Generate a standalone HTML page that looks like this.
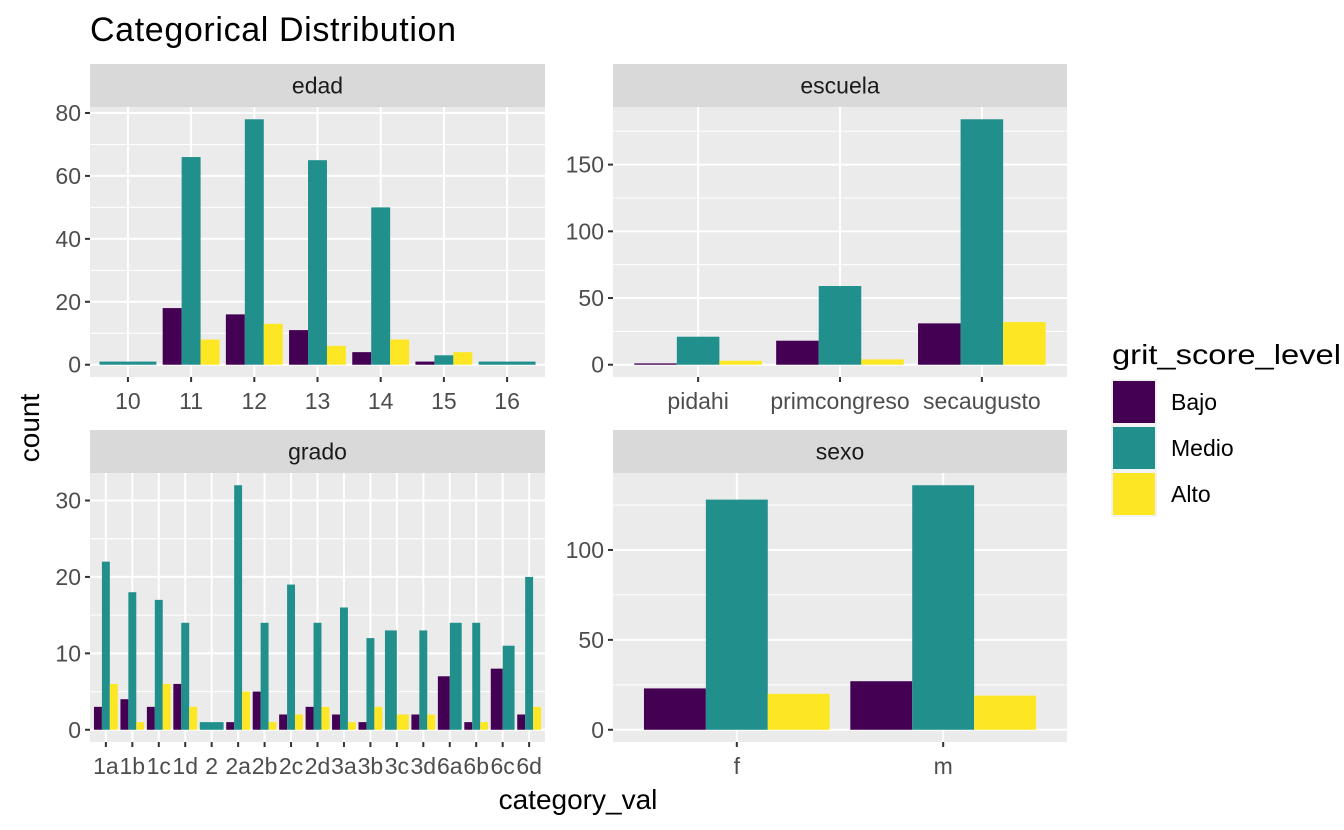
<!DOCTYPE html>
<html><head><meta charset="utf-8"><style>
html,body{margin:0;padding:0;background:#fff;}
svg{display:block;font-family:"Liberation Sans",Arial,sans-serif;}
</style></head><body>
<svg id="chart" width="1344" height="830" viewBox="0 0 1344 830">
<text x="90" y="41" font-size="34" fill="#000" textLength="366">Categorical Distribution</text>
<text transform="translate(39,428) rotate(-90)" text-anchor="middle" font-size="28" fill="#000">count</text>
<text x="578" y="809" text-anchor="middle" font-size="28" fill="#000">category_val</text>
<g>
<text x="1112" y="364" font-size="28" fill="#000" textLength="229" lengthAdjust="spacingAndGlyphs">grit_score_level</text>
<rect x="1111" y="379" width="46" height="138" fill="#f2f2f2"/>
<rect x="1113" y="381" width="42" height="42" fill="#440154"/>
<rect x="1113" y="427" width="42" height="42" fill="#21908c"/>
<rect x="1113" y="473" width="42" height="42" fill="#fde725"/>
<text x="1171" y="410" font-size="23" fill="#000">Bajo</text>
<text x="1171" y="456" font-size="23" fill="#000">Medio</text>
<text x="1171" y="502" font-size="23" fill="#000">Alto</text>
</g>
</svg>
<script>
const edadCats = ["10","11","12","13","14","15","16"];
const edadBajo = [null,18,16,11,4,1,null];
const edadMedio = [1,66,78,65,50,3,1];
const edadAlto = [null,8,13,6,8,4,null];
const edadTicks = [0,20,40,60,80];

const escuelaCats = ["pidahi","primcongreso","secaugusto"];
const escuelaBajo = [1,18,31];
const escuelaMedio = [21,59,184];
const escuelaAlto = [3,4,32];
const escuelaTicks = [0,50,100,150];

const gradoCats = ["1a","1b","1c","1d","2","2a","2b","2c","2d","3a","3b","3c","3d","6a","6b","6c","6d"];
const gradoBajo = [3,4,3,6,null,1,5,2,3,2,1,null,2,7,1,8,2];
const gradoMedio = [22,18,17,14,1,32,14,19,14,16,12,13,13,14,14,11,20];
const gradoAlto = [6,1,6,3,null,5,1,2,3,1,3,2,2,null,1,null,3];
const gradoTicks = [0,10,20,30];

const sexoCats = ["f","m"];
const sexoBajo = [23,27];
const sexoMedio = [128,136];
const sexoAlto = [20,19];
const sexoTicks = [0,50,100];

const NS = "http://www.w3.org/2000/svg";
const svg = document.getElementById("chart");
const COLORS = ["#440154","#21908c","#fde725"];
const GROUPS = ["bajo","medio","alto"];
function mk(tag, attrs, parent){
  const e = document.createElementNS(NS, tag);
  for (const k in attrs) e.setAttribute(k, attrs[k]);
  (parent||svg).appendChild(e);
  return e;
}
function panel(name, x0, x1, stripTop, plotTop, plotBot, cats, series, ticks, maxVal){
  const g = mk("g", {});
  
  
  const strip = mk("rect", {x:x0, y:stripTop, width:x1-x0, height:plotTop-stripTop, fill:"#d9d9d9"}, g);
  
  
  const st = mk("text", {x:(x0+x1)/2, y:(stripTop+plotTop)/2+8, "text-anchor":"middle", "font-size":"23", fill:"#1a1a1a"}, g);
  st.textContent = name;
  
  
  const bg = mk("rect", {x:x0, y:plotTop, width:x1-x0, height:plotBot-plotTop, fill:"#ebebeb"}, g);
  
  
  const H = plotBot - plotTop;
  const top = maxVal * 1.05, bot = -maxVal * 0.05;
  const yS = v => plotBot - (v - bot) / (top - bot) * H;
  const n = cats.length;
  const unit = (x1 - x0) / (n - 1 + 1.2);
  const xS = i => x0 + unit * (0.6 + i);
  const step = ticks[1] - ticks[0];
  for (let v = ticks[0] - step/2; v <= top; v += step) {
    if (v < bot) continue;
    const l = mk("line", {x1:x0, x2:x1, y1:yS(v), y2:yS(v), stroke:"#fff", "stroke-width":"1"}, g);
    
    
  }
  ticks.forEach(t => {
    const y = yS(t);
    const l = mk("line", {x1:x0, x2:x1, y1:y, y2:y, stroke:"#fff", "stroke-width":"2"}, g);
    
    
    const tk = mk("line", {x1:x0-5, x2:x0, y1:y, y2:y, stroke:"#333", "stroke-width":"2"}, g);
    
    
    const tx = mk("text", {x:x0-9, y:y+8, "text-anchor":"end", "font-size":"23", fill:"#4d4d4d"}, g);
    tx.textContent = t;
    
    
  });
  cats.forEach((c, i) => {
    const x = xS(i);
    const l = mk("line", {x1:x, x2:x, y1:plotTop, y2:plotBot, stroke:"#fff", "stroke-width":"2"}, g);
    
    
    const tk = mk("line", {x1:x, x2:x, y1:plotBot, y2:plotBot+5, stroke:"#333", "stroke-width":"2"}, g);
    
    
    const tx = mk("text", {x:x, y:plotBot+32, "text-anchor":"middle", "font-size":"23", fill:"#4d4d4d"}, g);
    tx.textContent = c;
    
    
  });
  cats.forEach((c, i) => {
    const present = [];
    series.forEach((s, k) => { if (s[i] !== null && s[i] !== undefined) present.push(k); });
    const w = unit * 0.9 / present.length;
    const left = xS(i) - unit * 0.45;
    present.forEach((k, j) => {
      const v = series[k][i];
      const r = mk("rect", {x:left + j*w, y:yS(v), width:w, height:yS(0)-yS(v), fill:COLORS[k]}, g);
      
      
    });
  });
}
panel("edad", 90, 545, 64, 107, 377, edadCats, [edadBajo, edadMedio, edadAlto], edadTicks, Math.max(...edadMedio));
panel("escuela", 613, 1067, 64, 107, 377, escuelaCats, [escuelaBajo, escuelaMedio, escuelaAlto], escuelaTicks, Math.max(...escuelaMedio));
panel("grado", 90, 545, 430, 473, 742, gradoCats, [gradoBajo, gradoMedio, gradoAlto], gradoTicks, Math.max(...gradoMedio));
panel("sexo", 613, 1067, 430, 473, 742, sexoCats, [sexoBajo, sexoMedio, sexoAlto], sexoTicks, Math.max(...sexoMedio));
</script>
</body></html>
